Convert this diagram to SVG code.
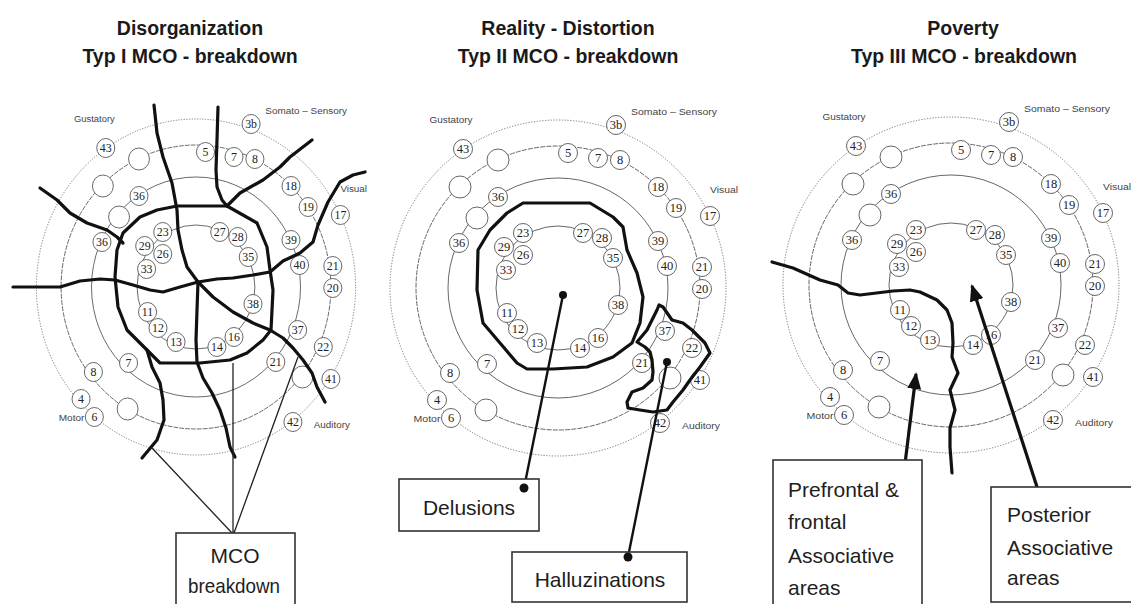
<svg xmlns="http://www.w3.org/2000/svg" width="1131" height="604" viewBox="0 0 1131 604">
<defs>
<style>
.r1{fill:none;stroke:#666;stroke-width:0.9;stroke-dasharray:1.2 1.6}
.r2{fill:none;stroke:#555;stroke-width:0.9;stroke-dasharray:5 1.2}
.r3{fill:none;stroke:#555;stroke-width:0.9}
.n circle{fill:#fff;stroke:#555;stroke-width:0.9}
.n text{font-family:"Liberation Serif",serif;font-size:12.5px;text-anchor:middle;fill:#222}
.lbl{font-family:"Liberation Sans",Arial,sans-serif;font-size:9.5px;text-anchor:middle;fill:#444}
.heavy{fill:none;stroke:#111;stroke-width:3.2;stroke-linejoin:round;stroke-linecap:round}
.thin{fill:none;stroke:#222;stroke-width:1.3}
.title{font-family:"Liberation Sans",Arial,sans-serif;font-weight:bold;font-size:19.5px;text-anchor:middle;fill:#1a1a1a}
.box rect{fill:#fff;stroke:#333;stroke-width:1.6}
.box text{font-family:"Liberation Sans",Arial,sans-serif;font-size:21px;fill:#1e1e1e}
.dot{fill:#111}
</style>
<marker id="arr" markerUnits="userSpaceOnUse" markerWidth="18" markerHeight="14" refX="15" refY="7" orient="auto">
<path d="M0,0 L17,7 L0,14 Z" fill="#111"/>
</marker>
<g id="base">
<circle class="r1" cx="0" cy="0" r="168"/>
<circle class="r2" cx="0" cy="0" r="142"/>
<circle class="r3" cx="0" cy="0" r="110"/>
<circle class="r3" cx="0" cy="0" r="62"/>
<text class="lbl" x="-107" y="-165" textLength="43" lengthAdjust="spacingAndGlyphs">Gustatory</text>
<text class="lbl" x="116" y="-173" textLength="86" lengthAdjust="spacingAndGlyphs">Somato – Sensory</text>
<text class="lbl" x="166" y="-95" textLength="28" lengthAdjust="spacingAndGlyphs">Visual</text>
<text class="lbl" x="-131" y="134" textLength="27" lengthAdjust="spacingAndGlyphs">Motor</text>
<text class="lbl" x="143" y="141" textLength="38" lengthAdjust="spacingAndGlyphs">Auditory</text>
<g id="n3b" class="n"><circle cx="58" cy="-163" r="9.5"/><text x="58" y="-159">3b</text></g>
<g id="n43" class="n"><circle cx="-95" cy="-139" r="9.5"/><text x="-95" y="-135">43</text></g>
<g id="e1" class="n"><circle cx="-60" cy="-128" r="11"/></g>
<g id="n5" class="n"><circle cx="10" cy="-135" r="9.5"/><text x="10" y="-131">5</text></g>
<g id="n7a" class="n"><circle cx="40" cy="-130" r="9.5"/><text x="40" y="-126">7</text></g>
<g id="n8a" class="n"><circle cx="62" cy="-128" r="9.5"/><text x="62" y="-124">8</text></g>
<g id="e2" class="n"><circle cx="-98" cy="-101" r="11"/></g>
<g id="n36a" class="n"><circle cx="-60" cy="-91" r="9.5"/><text x="-60" y="-87">36</text></g>
<g id="e3" class="n"><circle cx="-81" cy="-70" r="11"/></g>
<g id="n36b" class="n"><circle cx="-99" cy="-45" r="9.5"/><text x="-99" y="-41">36</text></g>
<g id="n18" class="n"><circle cx="100" cy="-101" r="9.5"/><text x="100" y="-97">18</text></g>
<g id="n19" class="n"><circle cx="118" cy="-80" r="9.5"/><text x="118" y="-76">19</text></g>
<g id="n17" class="n"><circle cx="152" cy="-72" r="9.5"/><text x="152" y="-68">17</text></g>
<g id="n39" class="n"><circle cx="100" cy="-47" r="9.5"/><text x="100" y="-43">39</text></g>
<g id="n40" class="n"><circle cx="109" cy="-22" r="9.5"/><text x="109" y="-18">40</text></g>
<g id="n21a" class="n"><circle cx="144" cy="-21" r="9.5"/><text x="144" y="-17">21</text></g>
<g id="n20" class="n"><circle cx="144" cy="1" r="9.5"/><text x="144" y="5">20</text></g>
<g id="n37" class="n"><circle cx="107" cy="43" r="9.5"/><text x="107" y="47">37</text></g>
<g id="n22" class="n"><circle cx="134" cy="60" r="9.5"/><text x="134" y="64">22</text></g>
<g id="n21b" class="n"><circle cx="84" cy="75" r="9.5"/><text x="84" y="79">21</text></g>
<g id="e4" class="n"><circle cx="112" cy="90" r="11"/></g>
<g id="n41" class="n"><circle cx="142" cy="92" r="9.5"/><text x="142" y="96">41</text></g>
<g id="n42" class="n"><circle cx="102" cy="135" r="9.5"/><text x="102" y="139">42</text></g>
<g id="n7b" class="n"><circle cx="-71" cy="76" r="9.5"/><text x="-71" y="80">7</text></g>
<g id="n8b" class="n"><circle cx="-108" cy="85" r="9.5"/><text x="-108" y="89">8</text></g>
<g id="n4" class="n"><circle cx="-121" cy="112" r="9.5"/><text x="-121" y="116">4</text></g>
<g id="n6" class="n"><circle cx="-107" cy="130" r="9.5"/><text x="-107" y="134">6</text></g>
<g id="e5" class="n"><circle cx="-72" cy="122" r="11"/></g>
<g id="n23" class="n"><circle cx="-35" cy="-55" r="9.5"/><text x="-35" y="-51">23</text></g>
<g id="n29" class="n"><circle cx="-54" cy="-41" r="9.5"/><text x="-54" y="-37">29</text></g>
<g id="n26" class="n"><circle cx="-35" cy="-33" r="9.5"/><text x="-35" y="-29">26</text></g>
<g id="n33" class="n"><circle cx="-52" cy="-18" r="9.5"/><text x="-52" y="-14">33</text></g>
<g id="n27" class="n"><circle cx="25" cy="-55" r="9.5"/><text x="25" y="-51">27</text></g>
<g id="n28" class="n"><circle cx="44" cy="-50" r="9.5"/><text x="44" y="-46">28</text></g>
<g id="n35" class="n"><circle cx="55" cy="-30" r="9.5"/><text x="55" y="-26">35</text></g>
<g id="n38" class="n"><circle cx="60" cy="17" r="9.5"/><text x="60" y="21">38</text></g>
<g id="n11" class="n"><circle cx="-51" cy="25" r="9.5"/><text x="-51" y="29">11</text></g>
<g id="n12" class="n"><circle cx="-40" cy="41" r="9.5"/><text x="-40" y="45">12</text></g>
<g id="n13" class="n"><circle cx="-21" cy="55" r="9.5"/><text x="-21" y="59">13</text></g>
<g id="n14" class="n"><circle cx="22" cy="60" r="9.5"/><text x="22" y="64">14</text></g>
<g id="n16" class="n"><circle cx="40" cy="50" r="9.5"/><text x="40" y="54">16</text></g>
</g>
</defs>
<rect width="1131" height="604" fill="#fff"/>

<g id="titles">
<text class="title" x="190" y="35">Disorganization</text>
<text class="title" x="190" y="63">Typ I MCO - breakdown</text>
<text class="title" x="568" y="35">Reality - Distortion</text>
<text class="title" x="568" y="63">Typ II MCO - breakdown</text>
<text class="title" x="963" y="35">Poverty</text>
<text class="title" x="964" y="63">Typ III MCO - breakdown</text>
</g>

<g id="panel1-map"><use href="#base" transform="translate(196,287) scale(0.95,1)"/></g>
<g id="panel2-map"><use href="#base" transform="translate(558,288)"/></g>
<g id="panel3-map"><use href="#base" transform="translate(951,285)"/></g>

<g id="connectors">
<path class="heavy" d="M154,105 L157,133 L163,157 L172,183 L177,210 L178,230 L182,250 L187,267 L198,282 L213,297 L233,312 L253,323 L270,330 L283,338 L293,348 L303,360 L312,373 L317,387 L325,402"/>
<path class="heavy" d="M13,287 L33,287 L60,287 L80,281 L100,279 L115,280 L133,285 L150,290 L163,292 L180,287 L198,282 L217,279 L233,278 L253,275 L270,272 L283,261 L300,253 L313,242 L318,225 L328,202 L340,182 L353,175 L365,172"/>
<path class="heavy" d="M198,282 L197,310 L196,340 L197,362 L203,378 L212,393 L220,410 L226,428 L230,447 L235,457"/>
<path class="heavy" d="M177,206 L227,206 L257,223 L267,247 L270,270 L273,290 L271,330 L263,340 L247,353 L230,360 L200,363 L160,363 L147,350 L127,330 L118,307 L115,277 L117,250 L123,233 L140,217 L157,210 Z"/>
<path class="heavy" d="M218,107 L217,140 L216,170 L217,187 L222,200 L227,206"/>
<path class="heavy" d="M227,206 L240,193 L263,180 L280,167 L290,157 L312,140"/>
<path class="heavy" d="M40,188 L57,200 L70,213 L87,223 L107,230 L117,237 L123,243"/>
<path class="heavy" d="M147,350 L152,367 L160,383 L163,400 L164,420 L157,440 L142,458"/>
<path class="thin" d="M152,448 L232,533 M233,363 L233,533 M298,357 L234,533"/>
<path class="heavy" d="M523,203 L590,203 L613,217 L623,227 L627,250 L637,273 L643,297 L640,323 L632,343 L613,357 L587,367 L553,369 L527,369 L517,363 L500,343 L483,323 L477,290 L478,250 L490,230 L507,213 Z"/>
<path class="heavy" d="M637,342 L647,330 L657,310 L659,305 L663,307 L672,320 L683,323 L692,330 L705,343 L710,353 L700,367 L690,380 L683,390 L673,402 L667,410 L653,412 L640,410 L628,408 L627,402 L632,392 L643,388 L652,380 L653,372 L652,360 L650,352 L645,347 Z"/>
<path class="heavy" style="stroke-width:2.4" d="M563,295 L524,488"/>
<circle class="dot" cx="563" cy="295" r="4"/>
<path class="heavy" style="stroke-width:2.4" d="M667,362 L628,557"/>
<circle class="dot" cx="667" cy="362" r="4"/>
<path class="heavy" d="M772,262 L793,268 L820,280 L838,285 L848,293 L860,295 L893,291 L910,290 L920,292 L937,300 L947,310 L952,323 L953,343 L952,357 L958,373 L950,390 L955,410 L950,428 L950,447 L952,473"/>
<path class="heavy" style="stroke-linecap:butt" d="M904,472 L916,374" marker-end="url(#arr)"/>
<path class="heavy" style="stroke-linecap:butt" d="M1038,490 L972,286" marker-end="url(#arr)"/>
</g>

<g id="box-mco" class="box">
<rect x="176" y="533" width="119" height="76"/>
<text x="235" y="563" text-anchor="middle">MCO</text>
<text x="234" y="593" text-anchor="middle" textLength="92" lengthAdjust="spacingAndGlyphs">breakdown</text>
</g>
<g id="box-delusions" class="box">
<rect x="399" y="479" width="140" height="52"/>
<text x="469" y="515" text-anchor="middle">Delusions</text>
</g>
<circle class="dot" cx="524" cy="488" r="4.5"/>
<g id="box-halluzinations" class="box">
<rect x="512" y="552" width="175" height="50"/>
<text x="600" y="587" text-anchor="middle">Halluzinations</text>
</g>
<circle class="dot" cx="628" cy="557" r="4.5"/>
<g id="box-prefrontal" class="box">
<rect x="773" y="460" width="149" height="150"/>
<text x="788" y="497">Prefrontal &amp;</text>
<text x="788" y="529">frontal</text>
<text x="788" y="563">Associative</text>
<text x="788" y="595">areas</text>
</g>
<g id="box-posterior" class="box">
<rect x="991" y="487" width="145" height="115"/>
<text x="1007" y="522">Posterior</text>
<text x="1007" y="555">Associative</text>
<text x="1007" y="585">areas</text>
</g>
</svg>
